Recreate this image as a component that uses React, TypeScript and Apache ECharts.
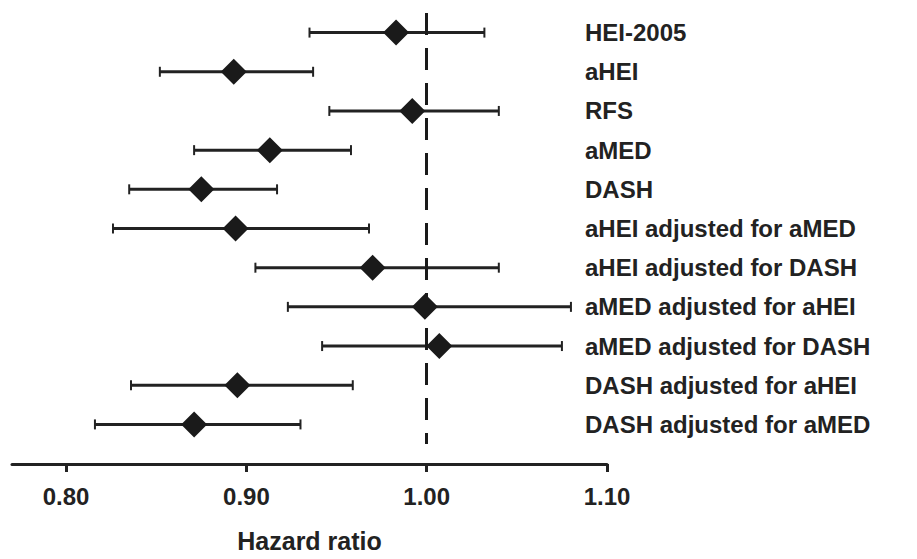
import React, { useEffect, useRef } from 'react';
import * as echarts from 'echarts';

const labels = [
  'HEI-2005', 'aHEI', 'RFS', 'aMED', 'DASH',
  'aHEI adjusted for aMED', 'aHEI adjusted for DASH',
  'aMED adjusted for aHEI', 'aMED adjusted for DASH',
  'DASH adjusted for aHEI', 'DASH adjusted for aMED',
];
const hr = [0.983, 0.893, 0.992, 0.913, 0.875, 0.894, 0.970, 0.999, 1.007, 0.895, 0.871];
const lower = [0.935, 0.852, 0.946, 0.871, 0.835, 0.826, 0.905, 0.923, 0.942, 0.836, 0.816];
const upper = [1.032, 0.937, 1.040, 0.958, 0.917, 0.968, 1.040, 1.080, 1.075, 0.959, 0.930];
const xTicks = [0.8, 0.9, 1.0, 1.1];

const FONT = '"Liberation Sans", Arial, sans-serif';

const App: React.FC = () => {
  const chartRef = useRef<HTMLDivElement>(null);

  useEffect(() => {
    if (!chartRef.current) return;
    const chart = echarts.init(chartRef.current, null, { renderer: 'svg' });
    const data = labels.map((name, i) => [i, lower[i], hr[i], upper[i]]);
    chart.setOption({
      animation: false,
      grid: { left: 12, right: 310, top: 13, bottom: 115 },
      xAxis: {
        type: 'value',
        min: 0.77,
        max: 1.1,
        offset: 20,
        splitLine: { show: false },
        axisLine: { show: true, lineStyle: { color: '#222', width: 3 } },
        axisTick: { show: true, customValues: xTicks, length: 8, lineStyle: { color: '#222', width: 3 } },
        axisLabel: {
          customValues: xTicks,
          formatter: (v: number) => v.toFixed(2),
          margin: 20,
          color: '#222',
          fontFamily: FONT,
          fontWeight: 'bold',
          fontSize: 24,
        },
        name: 'Hazard ratio',
        nameLocation: 'middle',
        nameGap: 64,
        nameTextStyle: { color: '#222', fontFamily: FONT, fontWeight: 'bold', fontSize: 25 },
      },
      yAxis: {
        type: 'category',
        data: labels,
        inverse: true,
        position: 'right',
        axisLine: { show: false },
        axisTick: { show: false },
        splitLine: { show: false },
        axisLabel: {
          margin: -22,
          align: 'left',
          color: '#222',
          fontFamily: FONT,
          fontWeight: 'bold',
          fontSize: 24,
        },
      },
      series: [
        {
          type: 'custom',
          data,
          encode: { x: [1, 2, 3], y: 0 },
          renderItem: (params: any, api: any) => {
            const i = api.value(0);
            const lo = api.coord([api.value(1), i]);
            const pt = api.coord([api.value(2), i]);
            const hi = api.coord([api.value(3), i]);
            const style = { stroke: '#222', lineWidth: 3 };
            const cap = 5;
            const w = 13;
            const h = 13;
            return {
              type: 'group',
              children: [
                { type: 'line', shape: { x1: lo[0], y1: lo[1], x2: hi[0], y2: hi[1] }, style },
                { type: 'line', shape: { x1: lo[0], y1: lo[1] - cap, x2: lo[0], y2: lo[1] + cap }, style: { stroke: '#222', lineWidth: 2 } },
                { type: 'line', shape: { x1: hi[0], y1: hi[1] - cap, x2: hi[0], y2: hi[1] + cap }, style: { stroke: '#222', lineWidth: 2 } },
                {
                  type: 'polygon',
                  shape: { points: [[pt[0] - w, pt[1]], [pt[0], pt[1] - h], [pt[0] + w, pt[1]], [pt[0], pt[1] + h]] },
                  style: { fill: '#1a1a1a' },
                },
              ],
            };
          },
          markLine: {
            silent: true,
            symbol: 'none',
            label: { show: false },
            lineStyle: { color: '#1a1a1a', width: 3, type: [22, 13] },
            data: [{ xAxis: 1.0 }],
          },
          z: 3,
        },
      ],
    });
    return () => { chart.dispose(); };
  }, []);

  return (
    <div
      ref={chartRef}
      style={{ position: 'absolute', left: 0, top: 0, width: 917, height: 559, background: '#fff' }}
    />
  );
};

export default App;
